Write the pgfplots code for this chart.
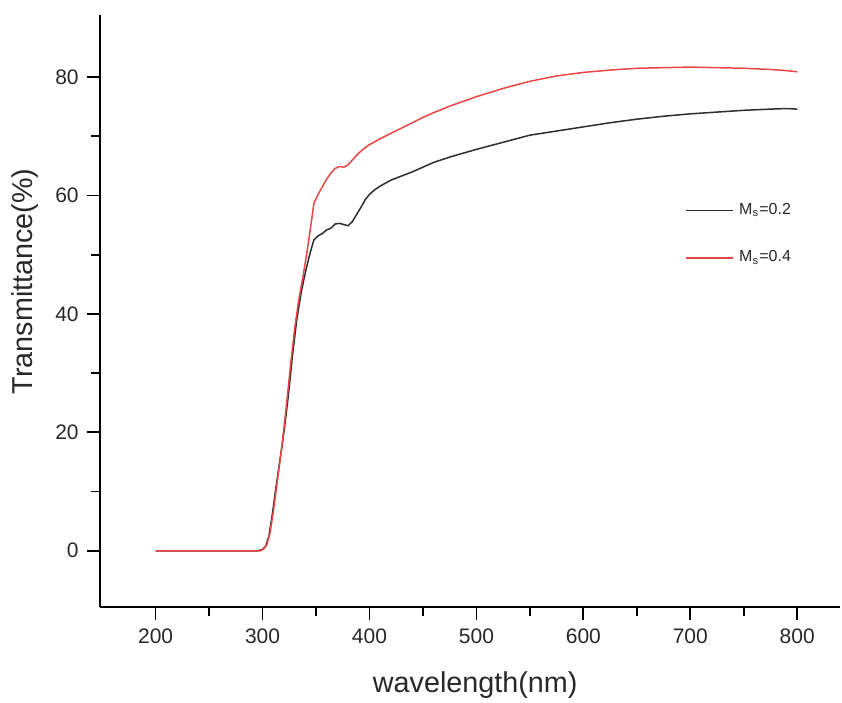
\documentclass[border=0pt]{standalone}
\usepackage{fontspec}
\setmainfont{Liberation Sans}
\usepackage{pgfplots}
\pgfplotsset{compat=1.18}
\definecolor{curvered}{RGB}{232,70,70}
\definecolor{curveblack}{RGB}{45,45,45}
\definecolor{ticktext}{RGB}{40,40,40}

\begin{document}
\begin{tikzpicture}
\begin{axis}[
    name=ax,
    scale only axis,
    width=296pt, height=236.8pt,
    xmin=148, xmax=840,
    ymin=-9.5, ymax=90.5,
    axis x line=bottom, axis y line=left,
    axis line style={-, line width=0.8pt, black},
    xtick={200,300,...,800},
    ytick={0,20,...,80},
    minor x tick num=1,
    minor y tick num=1,
    tick align=outside,
    major tick length=5pt, minor tick length=3.5pt,
    tick style={line width=0.7pt, black},
    /pgf/number format/assume math mode=true,
    ticklabel style={font=\fontsize{8.4}{10}\selectfont, text=ticktext},
    xlabel={wavelength(nm)},
    ylabel={Transmittance(\%)},
    label style={font=\fontsize{11.5}{14}\selectfont, text=ticktext},
    xlabel style={at={(axis description cs:0.507,0)}, anchor=base, yshift=-34pt},
    ylabel style={at={(axis description cs:0,0.55)}, anchor=center, yshift=30pt},
    legend style={at={(0.78,0.70)}, anchor=north west, draw=none, fill=none,
        font=\fontsize{6.4}{7}\selectfont, text=ticktext, row sep=9pt},
    legend cell align=left,
    legend image code/.code={\draw[#1, line width=0.6pt] (0pt,0pt) -- (19pt,0pt);},
]
\addplot[curveblack, line width=0.6pt] coordinates {
(200,0) (250,0) (295,0) (300,0.2) (303,0.8) (306,2.5) (309,6) (312,10)
(316,15) (320,20) (324,26) (328,33) (332,39) (336,43.5) (340,47) (344,50)
(348,52.5) (352,53.2) (356,53.6) (360,54.2) (364,54.5) (368,55.2) (372,55.3)
(376,55.1) (380,54.9) (384,55.6) (388,56.8) (392,58) (396,59.3) (400,60.2)
(405,61) (410,61.6) (420,62.6) (430,63.3) (440,64) (450,64.8) (460,65.6)
(475,66.5) (500,67.8) (525,69) (550,70.2) (575,70.9) (600,71.6) (625,72.3)
(650,72.9) (675,73.4) (700,73.8) (725,74.1) (750,74.4) (775,74.6) (790,74.7) (800,74.6)
};
\addlegendentry{M\textsubscript{s}=0.2}
\addplot[curvered, line width=0.6pt] coordinates {
(200,0) (250,0) (298,0) (301,0.3) (304,1) (307,3) (310,6.5) (314,12) (318,17.5)
(322,24) (326,31) (330,37.5) (334,42.5) (338,46.5) (342,51) (346,56) (348,58.7)
(352,60.2) (356,61.5) (360,62.8) (364,63.8) (368,64.6) (372,64.9) (376,64.8)
(380,65.2) (384,66) (388,66.8) (392,67.5) (396,68.1) (400,68.6) (410,69.6)
(420,70.5) (430,71.4) (440,72.3) (450,73.2) (460,74) (475,75.1) (500,76.7)
(525,78.1) (550,79.3) (575,80.2) (600,80.8) (625,81.2) (650,81.5) (675,81.6)
(700,81.7) (725,81.6) (750,81.5) (775,81.3) (790,81.1) (800,80.9)
};
\addlegendentry{M\textsubscript{s}=0.4}
\end{axis}
\pgfresetboundingbox
\path ([shift={(-40pt,-38pt)}]ax.south west) rectangle ([shift={(0.8pt,6pt)}]ax.north east);
\end{tikzpicture}
\end{document}
